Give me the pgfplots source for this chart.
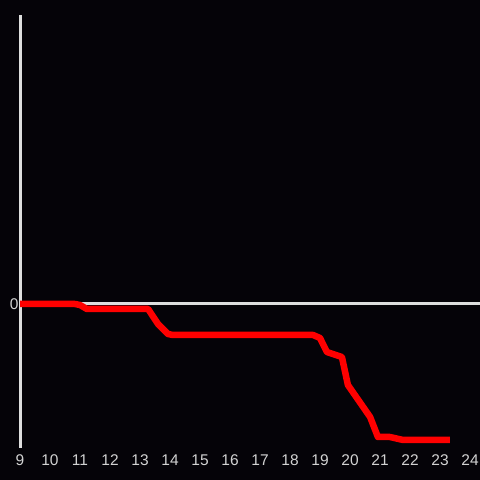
\documentclass[border=0pt]{standalone}
\usepackage{pgfplots}
\pgfplotsset{compat=1.18}
\usepackage{fontspec}
\setmainfont{Liberation Sans}
\definecolor{bg}{RGB}{5,3,8}
\definecolor{axgray}{RGB}{222,222,222}
\definecolor{lblgray}{RGB}{210,210,210}
\definecolor{linered}{RGB}{255,0,0}
\begin{document}
\begin{tikzpicture}[x=1bp,y=1bp]
\fill[bg] (0,0) rectangle (480,480);
\useasboundingbox (0,0) rectangle (480,480);
\begin{axis}[
  at={(20bp,32bp)}, anchor=south west,
  scale only axis, width=460bp, height=433bp,
  xmin=9, xmax=24.3333, ymin=-144, ymax=289,
  axis line style={draw=none},
  major tick length=0pt,
  xtick={9,10,...,24},
  ytick={0},
  /pgf/number format/assume math mode=true,
  tick label style={font=\fontsize{15.5bp}{17bp}\selectfont, text=lblgray},
  xticklabel style={yshift=-3bp},
  yticklabel style={xshift=2bp},
  clip=false,
]
\addplot[axgray, line width=3bp] coordinates {(9,0) (24.3333,0)};
\addplot[axgray, line width=3bp] coordinates {(9,-144) (9,289)};
\addplot[linered, line width=6.5bp, line join=round] coordinates {
(9,0) (10.83,0) (11.0,-1) (11.23,-5) (13.27,-5) (13.6,-20) (13.93,-30) (14.1,-31)
(18.77,-31) (19.0,-34) (19.23,-48) (19.73,-53) (19.93,-81) (20.67,-113) (20.93,-133)
(21.33,-133) (21.77,-136) (23.33,-136)
};
\end{axis}
\end{tikzpicture}
\end{document}
